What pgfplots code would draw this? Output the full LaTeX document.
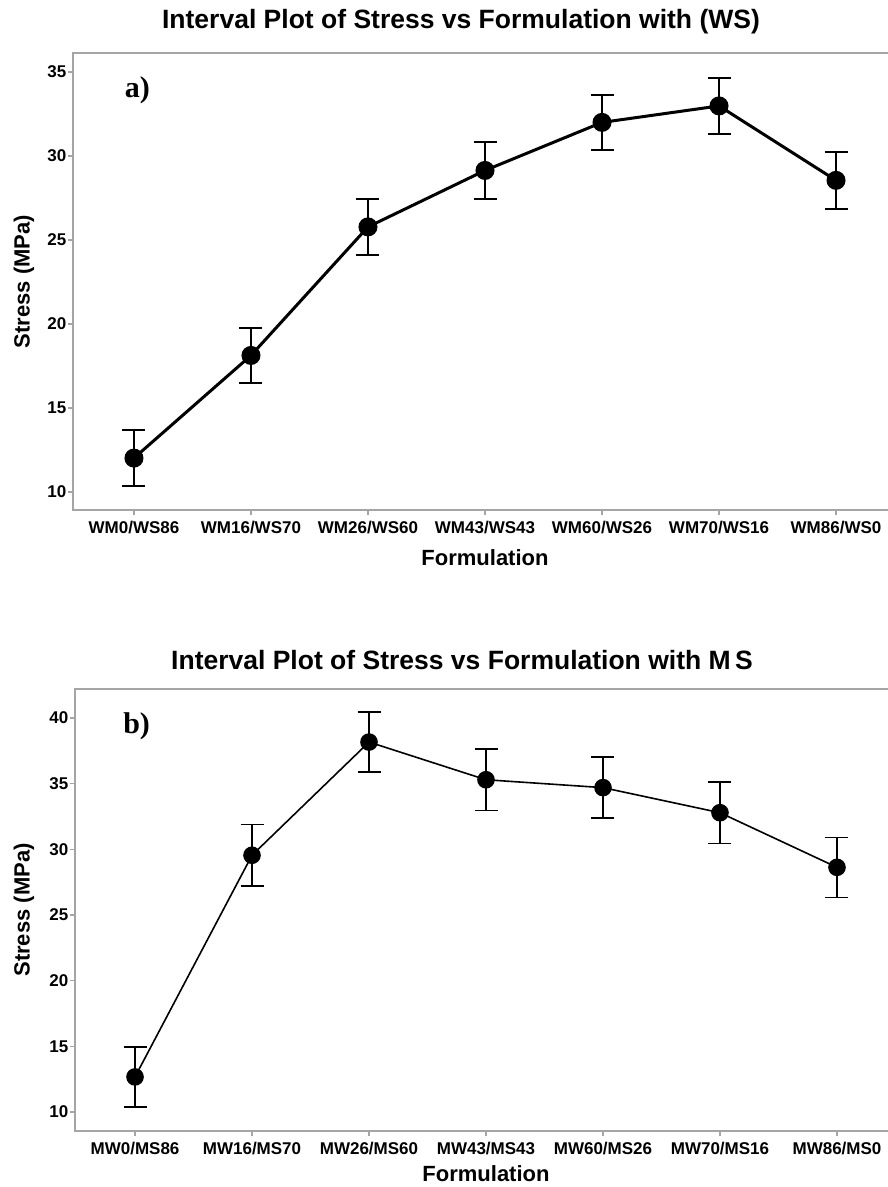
\documentclass[border=0pt]{standalone}
\usepackage{fontspec}
\setmainfont{Liberation Sans}
\newfontfamily\timesfont{Liberation Serif}
\usepackage{pgfplots}
\usepackage{pgfplotstable}
\pgfplotsset{compat=1.18}
\definecolor{framegray}{RGB}{165,165,165}

\pgfplotstableread{
x y e
0 12.02 1.66
1 18.13 1.63
2 25.78 1.67
3 29.14 1.70
4 32.00 1.64
5 32.98 1.67
6 28.55 1.70
}\dataWS

\pgfplotstableread{
x y e
0 12.67 2.29
1 29.55 2.35
2 38.17 2.29
3 35.30 2.33
4 34.70 2.33
5 32.79 2.33
6 28.63 2.29
}\dataMS

\newcommand\tickfont{\fontsize{17pt}{19pt}\selectfont\bfseries}
\newcommand\labfont{\fontsize{22pt}{25pt}\selectfont\bfseries}
\newcommand\titfont{\fontsize{26.5pt}{29pt}\selectfont\bfseries}

\pgfplotsset{
  panel/.style={
    scale only axis,
    anchor=south west,
    axis line style={framegray, line width=1.3pt},
    every tick/.style={framegray, line width=1.2pt},
    major tick length=5pt,
    tick align=outside,
    xtick pos=bottom, ytick pos=left,
    xtick={0,...,6},
    ytick distance=5,
    /pgf/number format/assume math mode=true,
    tick label style={font=\tickfont, text=black},
    yticklabel style={inner sep=1.5pt},
    xticklabel style={yshift=-3pt},
    label style={font=\labfont},
    ylabel={Stress (MPa)},
    xlabel={Formulation},
    clip=false,
  },
  ebars/.style={
    error bars/.cd, y dir=both, y explicit,
    error mark=-,
    error bar style={black, line width=1.5pt},
    error mark options={rotate=90, black, line width=1.5pt, mark size=11.5pt},
  },
}

\begin{document}
\begin{tikzpicture}
\path[use as bounding box] (0,0) rectangle (888pt,-1187pt);
\clip (0,0) rectangle (888pt,-1187pt);

\node[font=\titfont] at (461pt,-22pt) {Interval Plot of Stress vs Formulation with (WS)};
\begin{axis}[panel,
  at={(73pt,-510pt)}, width=824pt, height=457pt,
  xmin=-0.521, xmax=6.521, ymin=8.93, ymax=36.13,
  xticklabels={WM0/WS86,WM16/WS70,WM26/WS60,WM43/WS43,WM60/WS26,WM70/WS16,WM86/WS0},
  xlabel style={at={(axis description cs:0.5,-0.105)}, anchor=center},
  ylabel style={at={(axis description cs:-0.0595,0.5)}, anchor=center},
]
\addplot[black, line width=3pt, mark=*, mark size=8pt, mark options={solid}, ebars]
  table[x=x, y=y, y error=e] {\dataWS};
\node[font=\timesfont\bfseries\fontsize{30pt}{32pt}\selectfont] at (axis description cs:0.078,0.919) {a)};
\end{axis}

\node[font=\titfont] at (462pt,-660pt) {Interval Plot of Stress vs Formulation with M\,S};
\begin{axis}[panel,
  at={(75pt,-1131pt)}, width=822pt, height=442pt,
  xmin=-0.513, xmax=6.513, ymin=8.55, ymax=42.21,
  xticklabels={MW0/MS86,MW16/MS70,MW26/MS60,MW43/MS43,MW60/MS26,MW70/MS16,MW86/MS0},
  xlabel style={at={(axis description cs:0.5,-0.096)}, anchor=center},
  ylabel style={at={(axis description cs:-0.0620,0.5)}, anchor=center},
]
\addplot[black, line width=1.6pt, mark=*, mark size=8pt, mark options={solid}, ebars]
  table[x=x, y=y, y error=e] {\dataMS};
\node[font=\timesfont\bfseries\fontsize{30pt}{32pt}\selectfont] at (axis description cs:0.075,0.916) {b)};
\end{axis}
\end{tikzpicture}
\end{document}
